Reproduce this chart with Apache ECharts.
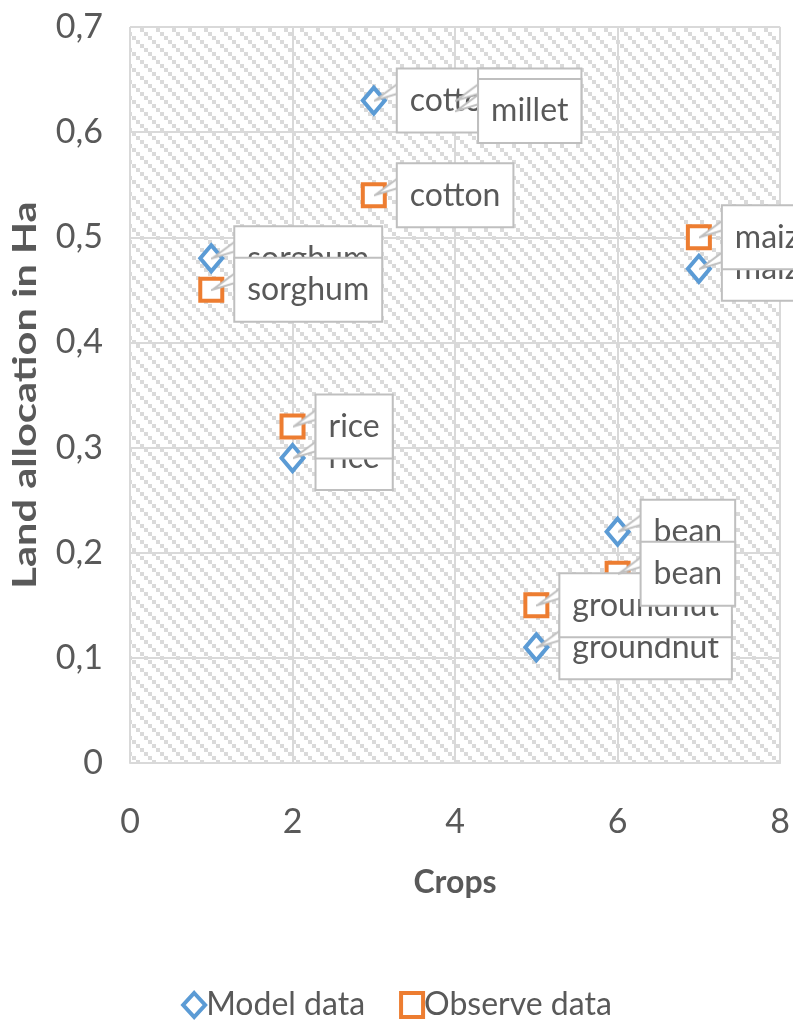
<!DOCTYPE html>
<html>
<head>
<meta charset="utf-8">
<script src="https://cdn.jsdelivr.net/npm/echarts@6/dist/echarts.min.js"></script>
<style>
  html, body { margin: 0; padding: 0; background: #fff; }
  #chart { width: 793px; height: 1028px; }
</style>
</head>
<body>
<div id="chart"></div>
<script>
// data
var crops = ['sorghum', 'rice', 'cotton', 'millet', 'groundnut', 'bean', 'maize'];
var cropX = [1, 2, 3, 4, 5, 6, 7];
var modelData = [0.48, 0.29, 0.63, 0.63, 0.11, 0.22, 0.47];
var observeData = [0.45, 0.32, 0.54, 0.62, 0.15, 0.18, 0.50];
var seriesNames = ['Model data', 'Observe data'];

var textColor = '#595959';
var boxColor = '#bfbfbf';
var fontName = 'Lato, "Open Sans", sans-serif';

// hatch pattern for the plot area (wide downward diagonal)
function hatch() {
  var size = 16;
  var c = document.createElement('canvas');
  c.width = size; c.height = size;
  var ctx = c.getContext('2d');
  ctx.fillStyle = '#ffffff';
  ctx.fillRect(0, 0, size, size);
  ctx.fillStyle = '#dadada';
  for (var k = 0; k < 4; k++) {
    ctx.fillRect(k * 4, k * 4, 4, 4);
  }
  return c;
}

// little callout wedge in front of each label box
function wedge() {
  var c = document.createElement('canvas');
  c.width = 24; c.height = 40;
  var ctx = c.getContext('2d');
  ctx.beginPath();
  ctx.moveTo(25, 3);
  ctx.lineTo(1, 20);
  ctx.lineTo(25, 13);
  ctx.closePath();
  ctx.fillStyle = '#ffffff';
  ctx.fill();
  ctx.beginPath();
  ctx.moveTo(24, 3);
  ctx.lineTo(1, 20);
  ctx.lineTo(24, 13);
  ctx.strokeStyle = boxColor;
  ctx.lineWidth = 2;
  ctx.stroke();
  return c;
}
var wedgeImg = wedge();

function points(values) {
  return values.map(function (v, i) {
    return { name: crops[i], value: [cropX[i], v] };
  });
}

var labelStyle = {
  show: true,
  position: ['50%', '50%'],
  align: 'left',
  verticalAlign: 'middle',
  formatter: function (p) { return '{p|}{t|' + p.name + '}'; },
  rich: {
    p: { width: 24, height: 40, backgroundColor: { image: wedgeImg } },
    t: {
      fontFamily: fontName,
      fontSize: 32,
      color: textColor,
      backgroundColor: '#ffffff',
      borderColor: boxColor,
      borderWidth: 2,
      padding: [15, 12, 15, 12]
    }
  }
};

var chart = echarts.init(document.getElementById('chart'));
var option = {
  animation: false,
  grid: {   // plot area
    left: 130,
    right: 12,
    top: 27,
    bottom: 265,
    show: true,
    borderWidth: 0,
    backgroundColor: { image: hatch(), repeat: 'repeat' }
  },
  // y title is stretched along its length in the picture
  graphic: [{
    type: 'text',
    x: 26,
    y: 395,
    rotation: Math.PI / 2,
    scaleX: 1.3,
    style: {
      text: 'Land allocation in Ha',
      fontFamily: fontName,
      fontSize: 32,
      fontWeight: 'bold',
      fill: textColor,
      align: 'center',
      verticalAlign: 'middle'
    }
  }],
  xAxis: {
    type: 'value',
    min: 0,
    max: 8,
    interval: 2,
    name: 'Crops',
    nameLocation: 'middle',
    nameGap: 104,
    nameTextStyle: { fontFamily: fontName, fontSize: 32, fontWeight: 'bold', color: textColor },
    axisLine: { show: true, lineStyle: { color: '#d9d9d9', width: 2 } },
    axisTick: { show: false },
    axisLabel: { margin: 42, fontFamily: fontName, fontSize: 34, color: textColor },
    splitLine: { show: true, lineStyle: { color: '#d9d9d9', width: 2 } }
  },
  yAxis: {
    type: 'value',
    min: 0,
    max: 0.7,
    interval: 0.1,
    axisLine: { show: false },
    axisTick: { show: false },
    axisLabel: {
      margin: 27,
      fontFamily: fontName,
      fontSize: 34,
      color: textColor,
      formatter: function (v) { return v === 0 ? '0' : v.toFixed(1).replace('.', ','); }
    },
    splitLine: { show: true, lineStyle: { color: '#d9d9d9', width: 2 } }
  },
  legend: {
    bottom: 2,
    left: 'center',
    itemWidth: 22,
    itemHeight: 24,
    itemGap: 34,
    itemStyle: { borderWidth: 4 },
    textStyle: { fontFamily: fontName, fontSize: 32, color: textColor, padding: [0, 0, 0, -4] },
    data: [
      { name: seriesNames[0], icon: 'diamond' },
      { name: seriesNames[1], icon: 'rect' }
    ]
  },
  series: [
    {
      name: seriesNames[0],
      type: 'scatter',
      symbol: 'diamond',
      symbolSize: [22, 26],
      itemStyle: { color: '#ffffff', borderColor: '#5b9bd5', borderWidth: 4, opacity: 1 },
      label: labelStyle,
      data: points(modelData)
    },
    {
      name: seriesNames[1],
      type: 'scatter',
      symbol: 'rect',
      symbolSize: 22,
      itemStyle: { color: '#ffffff', borderColor: '#ed7d31', borderWidth: 4, opacity: 1 },
      label: labelStyle,
      data: points(observeData)
    }
  ]
};
chart.setOption(option);
</script>
</body>
</html>
